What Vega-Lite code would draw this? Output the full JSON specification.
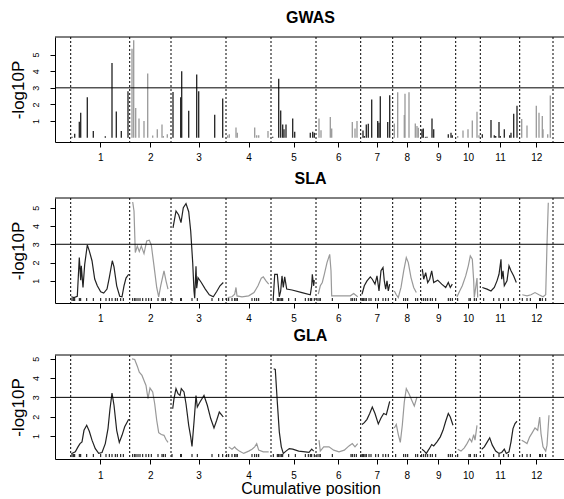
{
"$schema": "https://vega.github.io/schema/vega-lite/v6.json",
"padding": {"left": 8, "top": 9, "right": 0, "bottom": 0},
"config": {
 "view": {"stroke": null},
 "title": {"font": "Liberation Sans", "fontSize": 16, "fontWeight": "bold", "color": "black", "baseline": "alphabetic", "offset": 11},
 "axis": {"grid": false, "domainColor": "black", "tickColor": "black", "labelColor": "black", "titleColor": "black", "labelFont": "Liberation Sans", "titleFont": "Liberation Sans", "titleFontWeight": "normal", "domainWidth": 1, "tickWidth": 1, "tickSize": 5, "labelOverlap": false, "labelFlush": false}
},
"datasets": {
 "bounds": [{"pos":68.7},{"pos":127.7},{"pos":169},{"pos":224},{"pos":269},{"pos":314},{"pos":358.7},{"pos":390.7},{"pos":418.7},{"pos":453.7},{"pos":478.3},{"pos":517.7},{"pos":551}],
 "markers": [{"pos":70},{"pos":71.3},{"pos":72.7},{"pos":77.3},{"pos":78.7},{"pos":84.7},{"pos":91.3},{"pos":98.7},{"pos":104},{"pos":107.3},{"pos":110},{"pos":113.3},{"pos":115.3},{"pos":118.7},{"pos":121.3},
  {"pos":130.7},{"pos":132.7},{"pos":134},{"pos":136},{"pos":138},{"pos":140.7},{"pos":144},{"pos":146.7},{"pos":149.3},{"pos":156},{"pos":160},{"pos":161.3},{"pos":163.3},
  {"pos":170},{"pos":178.7},{"pos":179.3},{"pos":190},{"pos":195.3},{"pos":210},{"pos":216.7},{"pos":220.7},
  {"pos":224.7},{"pos":226.7},{"pos":230},{"pos":232.7},{"pos":234},{"pos":235.3},{"pos":250},{"pos":252.7},{"pos":254.7},{"pos":256.7},
  {"pos":271.3},{"pos":275.3},{"pos":276.7},{"pos":278},{"pos":279.3},{"pos":280.7},{"pos":286.7},{"pos":293.3},{"pos":303.3},{"pos":306.3},{"pos":308.3},{"pos":309.7},{"pos":312.3},
  {"pos":315},{"pos":317},{"pos":318.3},{"pos":330.3},{"pos":349},{"pos":350.3},{"pos":352.3},{"pos":354.3},
  {"pos":359},{"pos":360.3},{"pos":361.7},{"pos":363},{"pos":364.3},{"pos":367},{"pos":369},{"pos":373.7},{"pos":376.3},{"pos":381},{"pos":383.7},{"pos":386.3},
  {"pos":393.7},{"pos":401.7},{"pos":403.7},{"pos":405.7},{"pos":413.7},{"pos":415.7},
  {"pos":419.7},{"pos":421.7},{"pos":423.7},{"pos":425.7},{"pos":428.3},{"pos":430.3},{"pos":433.7},{"pos":446.3},{"pos":448.3},{"pos":450.3},
  {"pos":455.7},{"pos":467},{"pos":468.3},{"pos":472.3},{"pos":474.3},
  {"pos":481.7},{"pos":491.7},{"pos":497},{"pos":501.7},{"pos":506.3},{"pos":511.7},
  {"pos":520.3},{"pos":525},{"pos":528.3},{"pos":537.7},{"pos":538.3},{"pos":540.3},{"pos":543.7}],
 "gwas": [
  {"chr":1,"pos":70,"p":0.05},{"chr":1,"pos":72.7,"p":0.24},{"chr":1,"pos":77.3,"p":0.96},{"chr":1,"pos":78.7,"p":1.5},{"chr":1,"pos":85.3,"p":2.43},{"chr":1,"pos":91.3,"p":0.4},{"chr":1,"pos":103.3,"p":0.08},{"chr":1,"pos":110,"p":4.49},{"chr":1,"pos":114.3,"p":1.58},{"chr":1,"pos":119.3,"p":0.4},{"chr":1,"pos":126,"p":2.79},
  {"chr":2,"pos":130,"p":5.36},{"chr":2,"pos":131.7,"p":5.86},{"chr":2,"pos":133.7,"p":1.78},{"chr":2,"pos":137,"p":1.16},{"chr":2,"pos":142,"p":1.0},{"chr":2,"pos":145.7,"p":3.87},{"chr":2,"pos":150.7,"p":0.13},{"chr":2,"pos":155.3,"p":0.5},{"chr":2,"pos":160,"p":0.8},{"chr":2,"pos":161.3,"p":0.1},{"chr":2,"pos":165.3,"p":0.2},
  {"chr":3,"pos":171,"p":2.75},{"chr":3,"pos":178.7,"p":2.44},{"chr":3,"pos":179.7,"p":4.0},{"chr":3,"pos":186.7,"p":1.62},{"chr":3,"pos":194.7,"p":3.81},{"chr":3,"pos":196.7,"p":2.8},{"chr":3,"pos":212.7,"p":1.38},{"chr":3,"pos":220.7,"p":2.36},
  {"chr":4,"pos":225.7,"p":0.15},{"chr":4,"pos":227.3,"p":0.2},{"chr":4,"pos":234,"p":0.62},{"chr":4,"pos":235.3,"p":0.3},{"chr":4,"pos":252.7,"p":0.62},{"chr":4,"pos":254.7,"p":0.15},{"chr":4,"pos":256.7,"p":0.15},{"chr":4,"pos":266,"p":0.4},
  {"chr":5,"pos":270.7,"p":0.05},{"chr":5,"pos":276.7,"p":3.55},{"chr":5,"pos":278.7,"p":1.64},{"chr":5,"pos":280.7,"p":0.8},{"chr":5,"pos":282,"p":0.5},{"chr":5,"pos":284,"p":0.8},{"chr":5,"pos":290.7,"p":1.16},{"chr":5,"pos":292.7,"p":0.35},{"chr":5,"pos":308.3,"p":0.3},{"chr":5,"pos":310.7,"p":0.35},{"chr":5,"pos":312.3,"p":0.3},
  {"chr":6,"pos":317,"p":1.16},{"chr":6,"pos":319,"p":0.44},{"chr":6,"pos":328.3,"p":1.24},{"chr":6,"pos":329.7,"p":0.55},{"chr":6,"pos":350.3,"p":0.94},{"chr":6,"pos":353,"p":0.55},{"chr":6,"pos":355,"p":1.0},
  {"chr":7,"pos":361,"p":0.43},{"chr":7,"pos":362.3,"p":0.1},{"chr":7,"pos":364.3,"p":0.8},{"chr":7,"pos":366.3,"p":0.84},{"chr":7,"pos":369.7,"p":2.3},{"chr":7,"pos":375.7,"p":1.0},{"chr":7,"pos":377,"p":0.9},{"chr":7,"pos":378.3,"p":2.5},{"chr":7,"pos":385.7,"p":0.94},{"chr":7,"pos":387.7,"p":2.56},
  {"chr":8,"pos":392.3,"p":0.86},{"chr":8,"pos":395.7,"p":2.74},{"chr":8,"pos":402.3,"p":1.36},{"chr":8,"pos":403,"p":2.64},{"chr":8,"pos":407,"p":2.74},{"chr":8,"pos":413.3,"p":0.86},{"chr":8,"pos":415,"p":0.7},{"chr":8,"pos":416.3,"p":0.6},
  {"chr":9,"pos":420,"p":0.5},{"chr":9,"pos":421.3,"p":0.55},{"chr":9,"pos":423.5,"p":0.05},{"chr":9,"pos":425,"p":0.05},{"chr":9,"pos":430,"p":1.16},{"chr":9,"pos":431.7,"p":0.5},{"chr":9,"pos":446.3,"p":0.2},{"chr":9,"pos":449,"p":0.3},{"chr":9,"pos":450.3,"p":0.15},
  {"chr":10,"pos":455.7,"p":0.1},{"chr":10,"pos":461,"p":0.43},{"chr":10,"pos":466,"p":0.5},{"chr":10,"pos":470.3,"p":1.04},{"chr":10,"pos":475,"p":1.56},{"chr":10,"pos":477,"p":0.15},
  {"chr":11,"pos":480.3,"p":0.2},{"chr":11,"pos":489,"p":1.06},{"chr":11,"pos":492.3,"p":0.15},{"chr":11,"pos":493.7,"p":0.1},{"chr":11,"pos":497,"p":0.94},{"chr":11,"pos":498.3,"p":0.1},{"chr":11,"pos":502.3,"p":0.5},{"chr":11,"pos":507.7,"p":0.15},{"chr":11,"pos":509,"p":0.3},{"chr":11,"pos":511.7,"p":1.44},{"chr":11,"pos":515,"p":1.92},
  {"chr":12,"pos":519.7,"p":1.12},{"chr":12,"pos":525,"p":0.74},{"chr":12,"pos":534.3,"p":1.92},{"chr":12,"pos":537,"p":1.5},{"chr":12,"pos":540.3,"p":1.3},{"chr":12,"pos":541,"p":0.5},{"chr":12,"pos":545.7,"p":0.2},{"chr":12,"pos":548.3,"p":2.54}],
 "sla": [
  {"chr":1,"pos":69.3,"p":0.13},{"chr":1,"pos":72,"p":0.09},{"chr":1,"pos":75.3,"p":0.16},{"chr":1,"pos":77.3,"p":2.27},{"chr":1,"pos":78.7,"p":1.04},{"chr":1,"pos":79.3,"p":1.82},{"chr":1,"pos":81,"p":0.64},{"chr":1,"pos":82.7,"p":1.9},{"chr":1,"pos":85.3,"p":2.96},{"chr":1,"pos":87.3,"p":2.64},{"chr":1,"pos":90,"p":2.1},{"chr":1,"pos":92.7,"p":1.1},{"chr":1,"pos":95.3,"p":0.73},{"chr":1,"pos":98.7,"p":0.4},{"chr":1,"pos":101.7,"p":0.33},{"chr":1,"pos":105,"p":0.55},{"chr":1,"pos":107.3,"p":1.18},{"chr":1,"pos":110.3,"p":2.1},{"chr":1,"pos":112,"p":1.76},{"chr":1,"pos":114.7,"p":0.73},{"chr":1,"pos":117.7,"p":0.16},{"chr":1,"pos":120,"p":0.13},{"chr":1,"pos":122,"p":0.73},{"chr":1,"pos":124,"p":1.15},{"chr":1,"pos":126.7,"p":1.36},
  {"chr":2,"pos":130.7,"p":5.31},{"chr":2,"pos":132,"p":4.82},{"chr":2,"pos":133.3,"p":2.55},{"chr":2,"pos":135.3,"p":2.9},{"chr":2,"pos":137.3,"p":2.6},{"chr":2,"pos":139.3,"p":2.9},{"chr":2,"pos":142,"p":2.49},{"chr":2,"pos":144.7,"p":3.18},{"chr":2,"pos":147.3,"p":3.22},{"chr":2,"pos":149.3,"p":2.96},{"chr":2,"pos":152,"p":1.82},{"chr":2,"pos":154.7,"p":0.64},{"chr":2,"pos":156.7,"p":0.13},{"chr":2,"pos":158.7,"p":0.73},{"chr":2,"pos":162,"p":1.55},{"chr":2,"pos":164,"p":1.0},{"chr":2,"pos":166,"p":0.55},
  {"chr":3,"pos":171,"p":3.9},{"chr":3,"pos":174,"p":4.82},{"chr":3,"pos":176.7,"p":4.6},{"chr":3,"pos":179,"p":4.18},{"chr":3,"pos":181.3,"p":5.0},{"chr":3,"pos":184,"p":5.22},{"chr":3,"pos":186.7,"p":4.78},{"chr":3,"pos":188.7,"p":3.73},{"chr":3,"pos":190.7,"p":2.0},{"chr":3,"pos":192,"p":0.45},{"chr":3,"pos":192.7,"p":0.05},{"chr":3,"pos":194,"p":1.8},{"chr":3,"pos":194.7,"p":0.6},{"chr":3,"pos":196,"p":1.18},{"chr":3,"pos":199.3,"p":0.91},{"chr":3,"pos":203.3,"p":0.55},{"chr":3,"pos":207.3,"p":0.24},{"chr":3,"pos":211.3,"p":0.13},{"chr":3,"pos":214.7,"p":0.42},{"chr":3,"pos":218,"p":0.73},{"chr":3,"pos":221.3,"p":0.91},
  {"chr":4,"pos":225.7,"p":0.09},{"chr":4,"pos":230,"p":0.13},{"chr":4,"pos":232.7,"p":0.27},{"chr":4,"pos":234,"p":0.64},{"chr":4,"pos":235,"p":0.18},{"chr":4,"pos":240,"p":0.13},{"chr":4,"pos":246.7,"p":0.18},{"chr":4,"pos":252,"p":0.36},{"chr":4,"pos":256,"p":0.73},{"chr":4,"pos":259.3,"p":1.15},{"chr":4,"pos":261.3,"p":1.22},{"chr":4,"pos":264,"p":1.0},{"chr":4,"pos":266.7,"p":0.82},
  {"chr":5,"pos":271.3,"p":0.05},{"chr":5,"pos":272.7,"p":1.36},{"chr":5,"pos":275.3,"p":1.36},{"chr":5,"pos":277.3,"p":0.13},{"chr":5,"pos":278.7,"p":0.45},{"chr":5,"pos":280,"p":1.27},{"chr":5,"pos":281.3,"p":0.64},{"chr":5,"pos":282.7,"p":1.22},{"chr":5,"pos":284.7,"p":0.55},{"chr":5,"pos":290,"p":0.5},{"chr":5,"pos":300,"p":0.36},{"chr":5,"pos":308.3,"p":0.24},{"chr":5,"pos":309.7,"p":0.73},{"chr":5,"pos":310.3,"p":1.36},{"chr":5,"pos":311.7,"p":0.73},{"chr":5,"pos":312.3,"p":1.04},
  {"chr":6,"pos":316.3,"p":0.27},{"chr":6,"pos":318.3,"p":0.73},{"chr":6,"pos":320.3,"p":0.91},{"chr":6,"pos":322.3,"p":1.36},{"chr":6,"pos":325,"p":2.0},{"chr":6,"pos":327.7,"p":2.45},{"chr":6,"pos":329,"p":1.55},{"chr":6,"pos":329.7,"p":0.18},{"chr":6,"pos":338.3,"p":0.18},{"chr":6,"pos":348.3,"p":0.18},{"chr":6,"pos":351.7,"p":0.31},{"chr":6,"pos":355.7,"p":0.13},
  {"chr":7,"pos":360,"p":0.27},{"chr":7,"pos":362.3,"p":0.73},{"chr":7,"pos":365,"p":1.0},{"chr":7,"pos":368.3,"p":1.22},{"chr":7,"pos":370.3,"p":1.09},{"chr":7,"pos":373,"p":0.82},{"chr":7,"pos":375,"p":1.27},{"chr":7,"pos":377,"p":0.45},{"chr":7,"pos":379,"p":1.55},{"chr":7,"pos":381,"p":1.73},{"chr":7,"pos":382.3,"p":1.0},{"chr":7,"pos":383.7,"p":0.55},{"chr":7,"pos":385,"p":1.0},{"chr":7,"pos":386.3,"p":0.45},{"chr":7,"pos":387.7,"p":0.82},
  {"chr":8,"pos":392.3,"p":0.45},{"chr":8,"pos":394.3,"p":0.24},{"chr":8,"pos":396.3,"p":0.09},{"chr":8,"pos":399,"p":0.64},{"chr":8,"pos":401.7,"p":1.55},{"chr":8,"pos":404.3,"p":2.27},{"chr":8,"pos":406.3,"p":2.0},{"chr":8,"pos":409,"p":1.18},{"chr":8,"pos":411.7,"p":0.64},{"chr":8,"pos":414.3,"p":0.36},
  {"chr":9,"pos":420.3,"p":1.64},{"chr":9,"pos":421.7,"p":1.09},{"chr":9,"pos":423.7,"p":1.45},{"chr":9,"pos":425.7,"p":0.91},{"chr":9,"pos":427.7,"p":1.09},{"chr":9,"pos":429.7,"p":1.55},{"chr":9,"pos":431.7,"p":0.91},{"chr":9,"pos":435.7,"p":1.04},{"chr":9,"pos":439.7,"p":0.82},{"chr":9,"pos":443.7,"p":0.64},{"chr":9,"pos":446.3,"p":0.91},{"chr":9,"pos":448.3,"p":0.64},{"chr":9,"pos":450.3,"p":0.82},
  {"chr":10,"pos":455,"p":0.13},{"chr":10,"pos":457.7,"p":0.45},{"chr":10,"pos":460.3,"p":0.73},{"chr":10,"pos":463.7,"p":1.27},{"chr":10,"pos":466.3,"p":1.82},{"chr":10,"pos":468.3,"p":2.36},{"chr":10,"pos":470.3,"p":2.18},{"chr":10,"pos":471.7,"p":1.0},{"chr":10,"pos":472.3,"p":0.09},{"chr":10,"pos":473.7,"p":0.64},{"chr":10,"pos":475,"p":1.15},{"chr":10,"pos":475.7,"p":0.09},
  {"chr":11,"pos":480.3,"p":0.64},{"chr":11,"pos":485,"p":0.55},{"chr":11,"pos":489,"p":0.45},{"chr":11,"pos":492.3,"p":0.64},{"chr":11,"pos":495,"p":1.0},{"chr":11,"pos":497,"p":1.36},{"chr":11,"pos":499,"p":2.18},{"chr":11,"pos":499.7,"p":1.09},{"chr":11,"pos":501,"p":1.55},{"chr":11,"pos":502.3,"p":0.73},{"chr":11,"pos":505,"p":1.0},{"chr":11,"pos":507,"p":1.82},{"chr":11,"pos":509,"p":1.55},{"chr":11,"pos":511.7,"p":1.27},{"chr":11,"pos":514.3,"p":0.91},
  {"chr":12,"pos":520.3,"p":0.24},{"chr":12,"pos":525,"p":0.18},{"chr":12,"pos":529,"p":0.24},{"chr":12,"pos":533,"p":0.36},{"chr":12,"pos":537,"p":0.24},{"chr":12,"pos":541,"p":0.13},{"chr":12,"pos":543.7,"p":0.24},{"chr":12,"pos":545,"p":3.0},{"chr":12,"pos":546.3,"p":5.27}],
 "gla": [
  {"chr":1,"pos":69.3,"p":0.07},{"chr":1,"pos":73.3,"p":0.17},{"chr":1,"pos":76,"p":0.43},{"chr":1,"pos":78,"p":0.6},{"chr":1,"pos":80,"p":0.69},{"chr":1,"pos":82,"p":1.29},{"chr":1,"pos":84.7,"p":1.55},{"chr":1,"pos":87.3,"p":1.24},{"chr":1,"pos":90,"p":0.78},{"chr":1,"pos":93.3,"p":0.34},{"chr":1,"pos":96.7,"p":0.09},{"chr":1,"pos":100,"p":0.14},{"chr":1,"pos":103.3,"p":0.6},{"chr":1,"pos":106,"p":1.38},{"chr":1,"pos":108,"p":2.41},{"chr":1,"pos":110,"p":3.22},{"chr":1,"pos":112,"p":2.59},{"chr":1,"pos":114.7,"p":1.29},{"chr":1,"pos":117.3,"p":0.66},{"chr":1,"pos":120,"p":1.03},{"chr":1,"pos":122.7,"p":1.47},{"chr":1,"pos":126.7,"p":1.86},
  {"chr":2,"pos":130,"p":5.0},{"chr":2,"pos":132.7,"p":4.97},{"chr":2,"pos":135.3,"p":4.62},{"chr":2,"pos":137.3,"p":4.31},{"chr":2,"pos":140,"p":4.14},{"chr":2,"pos":142,"p":3.88},{"chr":2,"pos":144,"p":3.62},{"chr":2,"pos":146,"p":2.93},{"chr":2,"pos":148,"p":3.48},{"chr":2,"pos":150.7,"p":3.28},{"chr":2,"pos":152.7,"p":2.67},{"chr":2,"pos":154.7,"p":1.81},{"chr":2,"pos":156.7,"p":1.17},{"chr":2,"pos":159.3,"p":1.07},{"chr":2,"pos":162,"p":1.03},{"chr":2,"pos":164,"p":0.81},{"chr":2,"pos":166,"p":0.66},
  {"chr":3,"pos":170.7,"p":2.41},{"chr":3,"pos":172,"p":2.93},{"chr":3,"pos":174,"p":3.45},{"chr":3,"pos":176,"p":3.19},{"chr":3,"pos":178,"p":3.1},{"chr":3,"pos":179.3,"p":3.45},{"chr":3,"pos":182,"p":3.28},{"chr":3,"pos":184,"p":2.67},{"chr":3,"pos":186.7,"p":1.55},{"chr":3,"pos":188.7,"p":0.95},{"chr":3,"pos":190,"p":0.45},{"chr":3,"pos":192,"p":1.72},{"chr":3,"pos":194,"p":3.1},{"chr":3,"pos":195.3,"p":2.5},{"chr":3,"pos":198,"p":2.76},{"chr":3,"pos":202,"p":3.1},{"chr":3,"pos":205.3,"p":2.59},{"chr":3,"pos":208.7,"p":1.9},{"chr":3,"pos":212,"p":1.41},{"chr":3,"pos":214.7,"p":1.81},{"chr":3,"pos":217.3,"p":2.24},{"chr":3,"pos":220,"p":2.07},{"chr":3,"pos":221.3,"p":1.98},
  {"chr":4,"pos":226.7,"p":0.43},{"chr":4,"pos":230,"p":0.31},{"chr":4,"pos":232.7,"p":0.43},{"chr":4,"pos":234,"p":0.34},{"chr":4,"pos":237.3,"p":0.21},{"chr":4,"pos":241.7,"p":0.09},{"chr":4,"pos":246.7,"p":0.21},{"chr":4,"pos":250,"p":0.31},{"chr":4,"pos":252.7,"p":0.43},{"chr":4,"pos":254.7,"p":0.6},{"chr":4,"pos":256.7,"p":0.26},{"chr":4,"pos":261.3,"p":0.17},{"chr":4,"pos":266.7,"p":0.17},
  {"chr":5,"pos":271.7,"p":4.48},{"chr":5,"pos":273.3,"p":4.45},{"chr":5,"pos":275.3,"p":2.76},{"chr":5,"pos":277.3,"p":1.21},{"chr":5,"pos":279.3,"p":0.43},{"chr":5,"pos":281.3,"p":0.09},{"chr":5,"pos":284,"p":0.21},{"chr":5,"pos":287.3,"p":0.34},{"chr":5,"pos":290.7,"p":0.31},{"chr":5,"pos":296.7,"p":0.21},{"chr":5,"pos":303.3,"p":0.17},{"chr":5,"pos":307,"p":0.14},{"chr":5,"pos":309.7,"p":0.31},{"chr":5,"pos":311.7,"p":0.21},
  {"chr":6,"pos":317,"p":0.78},{"chr":6,"pos":318.3,"p":0.21},{"chr":6,"pos":321.7,"p":0.43},{"chr":6,"pos":327,"p":0.43},{"chr":6,"pos":331.7,"p":0.26},{"chr":6,"pos":337,"p":0.17},{"chr":6,"pos":342.3,"p":0.26},{"chr":6,"pos":347,"p":0.48},{"chr":6,"pos":350.3,"p":0.6},{"chr":6,"pos":353,"p":0.43},{"chr":6,"pos":355.7,"p":0.6},
  {"chr":7,"pos":360,"p":1.59},{"chr":7,"pos":362.3,"p":1.69},{"chr":7,"pos":365,"p":1.86},{"chr":7,"pos":367.7,"p":2.16},{"chr":7,"pos":370.3,"p":2.5},{"chr":7,"pos":373,"p":2.16},{"chr":7,"pos":376.3,"p":1.62},{"chr":7,"pos":379,"p":1.93},{"chr":7,"pos":381.7,"p":2.16},{"chr":7,"pos":384.3,"p":2.1},{"chr":7,"pos":386.3,"p":2.5},{"chr":7,"pos":387.7,"p":2.79},
  {"chr":8,"pos":392.3,"p":1.41},{"chr":8,"pos":394.3,"p":1.59},{"chr":8,"pos":396.3,"p":1.07},{"chr":8,"pos":398.3,"p":0.66},{"chr":8,"pos":400.3,"p":1.55},{"chr":8,"pos":402.3,"p":2.76},{"chr":8,"pos":404.3,"p":3.45},{"chr":8,"pos":407,"p":3.19},{"chr":8,"pos":410.3,"p":2.79},{"chr":8,"pos":412.3,"p":2.55},{"chr":8,"pos":415,"p":3.02},
  {"chr":9,"pos":420,"p":0.31},{"chr":9,"pos":422.3,"p":0.21},{"chr":9,"pos":424.3,"p":0.09},{"chr":9,"pos":427,"p":0.31},{"chr":9,"pos":429.7,"p":0.55},{"chr":9,"pos":431.7,"p":0.48},{"chr":9,"pos":435,"p":0.69},{"chr":9,"pos":438.3,"p":0.95},{"chr":9,"pos":441,"p":1.29},{"chr":9,"pos":443.7,"p":1.76},{"chr":9,"pos":446.3,"p":2.16},{"chr":9,"pos":448.3,"p":1.98},{"chr":9,"pos":451,"p":1.55},
  {"chr":10,"pos":455.7,"p":0.31},{"chr":10,"pos":459,"p":0.21},{"chr":10,"pos":462.3,"p":0.38},{"chr":10,"pos":465,"p":0.6},{"chr":10,"pos":467.7,"p":0.86},{"chr":10,"pos":469.7,"p":0.69},{"chr":10,"pos":471.7,"p":1.07},{"chr":10,"pos":473,"p":0.78},{"chr":10,"pos":475,"p":1.55},
  {"chr":11,"pos":479.7,"p":0.31},{"chr":11,"pos":482.3,"p":0.43},{"chr":11,"pos":485,"p":0.66},{"chr":11,"pos":487.7,"p":0.9},{"chr":11,"pos":490.3,"p":0.52},{"chr":11,"pos":493.7,"p":0.21},{"chr":11,"pos":497,"p":0.09},{"chr":11,"pos":499.7,"p":0.14},{"chr":11,"pos":502.3,"p":0.31},{"chr":11,"pos":504.3,"p":0.09},{"chr":11,"pos":507,"p":0.17},{"chr":11,"pos":509,"p":0.69},{"chr":11,"pos":511,"p":1.38},{"chr":11,"pos":513,"p":1.64},{"chr":11,"pos":515,"p":1.76},
  {"chr":12,"pos":519.7,"p":0.78},{"chr":12,"pos":522.3,"p":0.69},{"chr":12,"pos":525,"p":0.6},{"chr":12,"pos":527.7,"p":0.95},{"chr":12,"pos":530.3,"p":1.17},{"chr":12,"pos":533,"p":1.41},{"chr":12,"pos":535.7,"p":1.29},{"chr":12,"pos":537.7,"p":1.98},{"chr":12,"pos":539,"p":1.12},{"chr":12,"pos":541,"p":0.43},{"chr":12,"pos":543.7,"p":0.21},{"chr":12,"pos":545,"p":0.52},{"chr":12,"pos":547,"p":2.07}]
},
"bounds": "flush",
"spacing": 56,
"vconcat": [
 {"title": "GWAS", "width": 511, "height": 105,
  "layer": [
   {"data": {"name": "gwas"}, "mark": {"type": "rule", "strokeWidth": 1.3},
    "encoding": {
     "x": {"field": "pos", "type": "quantitative", "scale": {"domain": [53, 564], "nice": false, "zero": false},
       "axis": {"values": [98.2,148.35,196.5,246.5,291.5,336.35,374.7,404.7,436.2,466,498,534.35], "tickCount": 20, "labelExpr": "indexof([98.2,148.35,196.5,246.5,291.5,336.35,374.7,404.7,436.2,466,498,534.35], datum.value) + 1", "title": null, "labelFontSize": 10, "labelPadding": 5}},
     "y": {"field": "p", "type": "quantitative", "scale": {"domain": [-0.26, 6.06], "nice": false, "zero": false},
       "axis": {"values": [1,2,3,4,5], "tickCount": 10, "format": "d", "title": "-log10P", "titleFontSize": 17, "labelAngle": 270, "labelAlign": "center", "labelBaseline": "bottom", "labelFontSize": 9, "labelPadding": 10, "titlePadding": 4}},
     "y2": {"datum": 0},
     "color": {"field": "chr", "type": "nominal", "scale": {"domain": [1,2,3,4,5,6,7,8,9,10,11,12], "range": ["#222","#999","#222","#999","#222","#999","#222","#999","#222","#999","#222","#999"]}, "legend": null}
    }},
   {"data": {"name": "bounds"}, "mark": {"type": "rule", "strokeDash": [2,2], "strokeWidth": 1, "color": "black"},
    "encoding": {"x": {"field": "pos", "type": "quantitative"}}},
   {"data": {"values": [{}]}, "mark": {"type": "rule", "color": "black", "strokeWidth": 1}, "encoding": {"y": {"datum": 3}}},
   {"data": {"values": [{}]}, "mark": {"type": "rule", "color": "black", "strokeWidth": 1}, "encoding": {"y": {"datum": 6.06}}}
  ]},
 {"bounds": "flush", "spacing": 52,
  "vconcat": [
   {"title": "SLA", "width": 511, "height": 105,
    "layer": [
     {"data": {"name": "sla"}, "mark": {"type": "line", "strokeWidth": 1.2},
      "encoding": {
       "x": {"field": "pos", "type": "quantitative", "scale": {"domain": [53, 564], "nice": false, "zero": false},
         "axis": {"values": [98.2,148.35,196.5,246.5,291.5,336.35,374.7,404.7,436.2,466,498,534.35], "tickCount": 20, "labelExpr": "indexof([98.2,148.35,196.5,246.5,291.5,336.35,374.7,404.7,436.2,466,498,534.35], datum.value) + 1", "title": null, "labelFontSize": 10, "labelPadding": 5}},
       "y": {"field": "p", "type": "quantitative", "scale": {"domain": [-0.21, 5.53], "nice": false, "zero": false},
         "axis": {"values": [1,2,3,4,5], "tickCount": 10, "format": "d", "title": "-log10P", "titleFontSize": 17, "labelAngle": 270, "labelAlign": "center", "labelBaseline": "bottom", "labelFontSize": 9, "labelPadding": 10, "titlePadding": 4}},
       "color": {"field": "chr", "type": "nominal", "scale": {"domain": [1,2,3,4,5,6,7,8,9,10,11,12], "range": ["#222","#999","#222","#999","#222","#999","#222","#999","#222","#999","#222","#999"]}, "legend": null}
      }},
     {"data": {"name": "markers"}, "mark": {"type": "rule", "strokeWidth": 1, "color": "black"},
      "encoding": {"x": {"field": "pos", "type": "quantitative"}, "y": {"datum": 0.06}, "y2": {"datum": -0.1}}},
     {"data": {"name": "bounds"}, "mark": {"type": "rule", "strokeDash": [2,2], "strokeWidth": 1, "color": "black"},
      "encoding": {"x": {"field": "pos", "type": "quantitative"}}},
     {"data": {"values": [{}]}, "mark": {"type": "rule", "color": "black", "strokeWidth": 1}, "encoding": {"y": {"datum": 3}}},
     {"data": {"values": [{}]}, "mark": {"type": "rule", "color": "black", "strokeWidth": 1}, "encoding": {"y": {"datum": 5.53}}}
    ]},
   {"title": "GLA", "width": 511, "height": 104,
    "layer": [
     {"data": {"name": "gla"}, "mark": {"type": "line", "strokeWidth": 1.2},
      "encoding": {
       "x": {"field": "pos", "type": "quantitative", "scale": {"domain": [53, 564], "nice": false, "zero": false},
         "axis": {"values": [98.2,148.35,196.5,246.5,291.5,336.35,374.7,404.7,436.2,466,498,534.35], "tickCount": 20, "labelExpr": "indexof([98.2,148.35,196.5,246.5,291.5,336.35,374.7,404.7,436.2,466,498,534.35], datum.value) + 1", "title": "Cumulative position", "titleFontSize": 16, "titlePadding": 0, "labelFontSize": 10, "labelPadding": 6}},
       "y": {"field": "p", "type": "quantitative", "scale": {"domain": [-0.2, 5.2], "nice": false, "zero": false},
         "axis": {"values": [1,2,3,4,5], "tickCount": 10, "format": "d", "title": "-log10P", "titleFontSize": 17, "labelAngle": 270, "labelAlign": "center", "labelBaseline": "bottom", "labelFontSize": 9, "labelPadding": 10, "titlePadding": 4}},
       "color": {"field": "chr", "type": "nominal", "scale": {"domain": [1,2,3,4,5,6,7,8,9,10,11,12], "range": ["#222","#999","#222","#999","#222","#999","#222","#999","#222","#999","#222","#999"]}, "legend": null}
      }},
     {"data": {"name": "markers"}, "mark": {"type": "rule", "strokeWidth": 1, "color": "black"},
      "encoding": {"x": {"field": "pos", "type": "quantitative"}, "y": {"datum": 0.06}, "y2": {"datum": -0.1}}},
     {"data": {"name": "bounds"}, "mark": {"type": "rule", "strokeDash": [2,2], "strokeWidth": 1, "color": "black"},
      "encoding": {"x": {"field": "pos", "type": "quantitative"}}},
     {"data": {"values": [{}]}, "mark": {"type": "rule", "color": "black", "strokeWidth": 1}, "encoding": {"y": {"datum": 3}}},
     {"data": {"values": [{}]}, "mark": {"type": "rule", "color": "black", "strokeWidth": 1}, "encoding": {"y": {"datum": 5.2}}}
    ]}
  ]}
]
}
